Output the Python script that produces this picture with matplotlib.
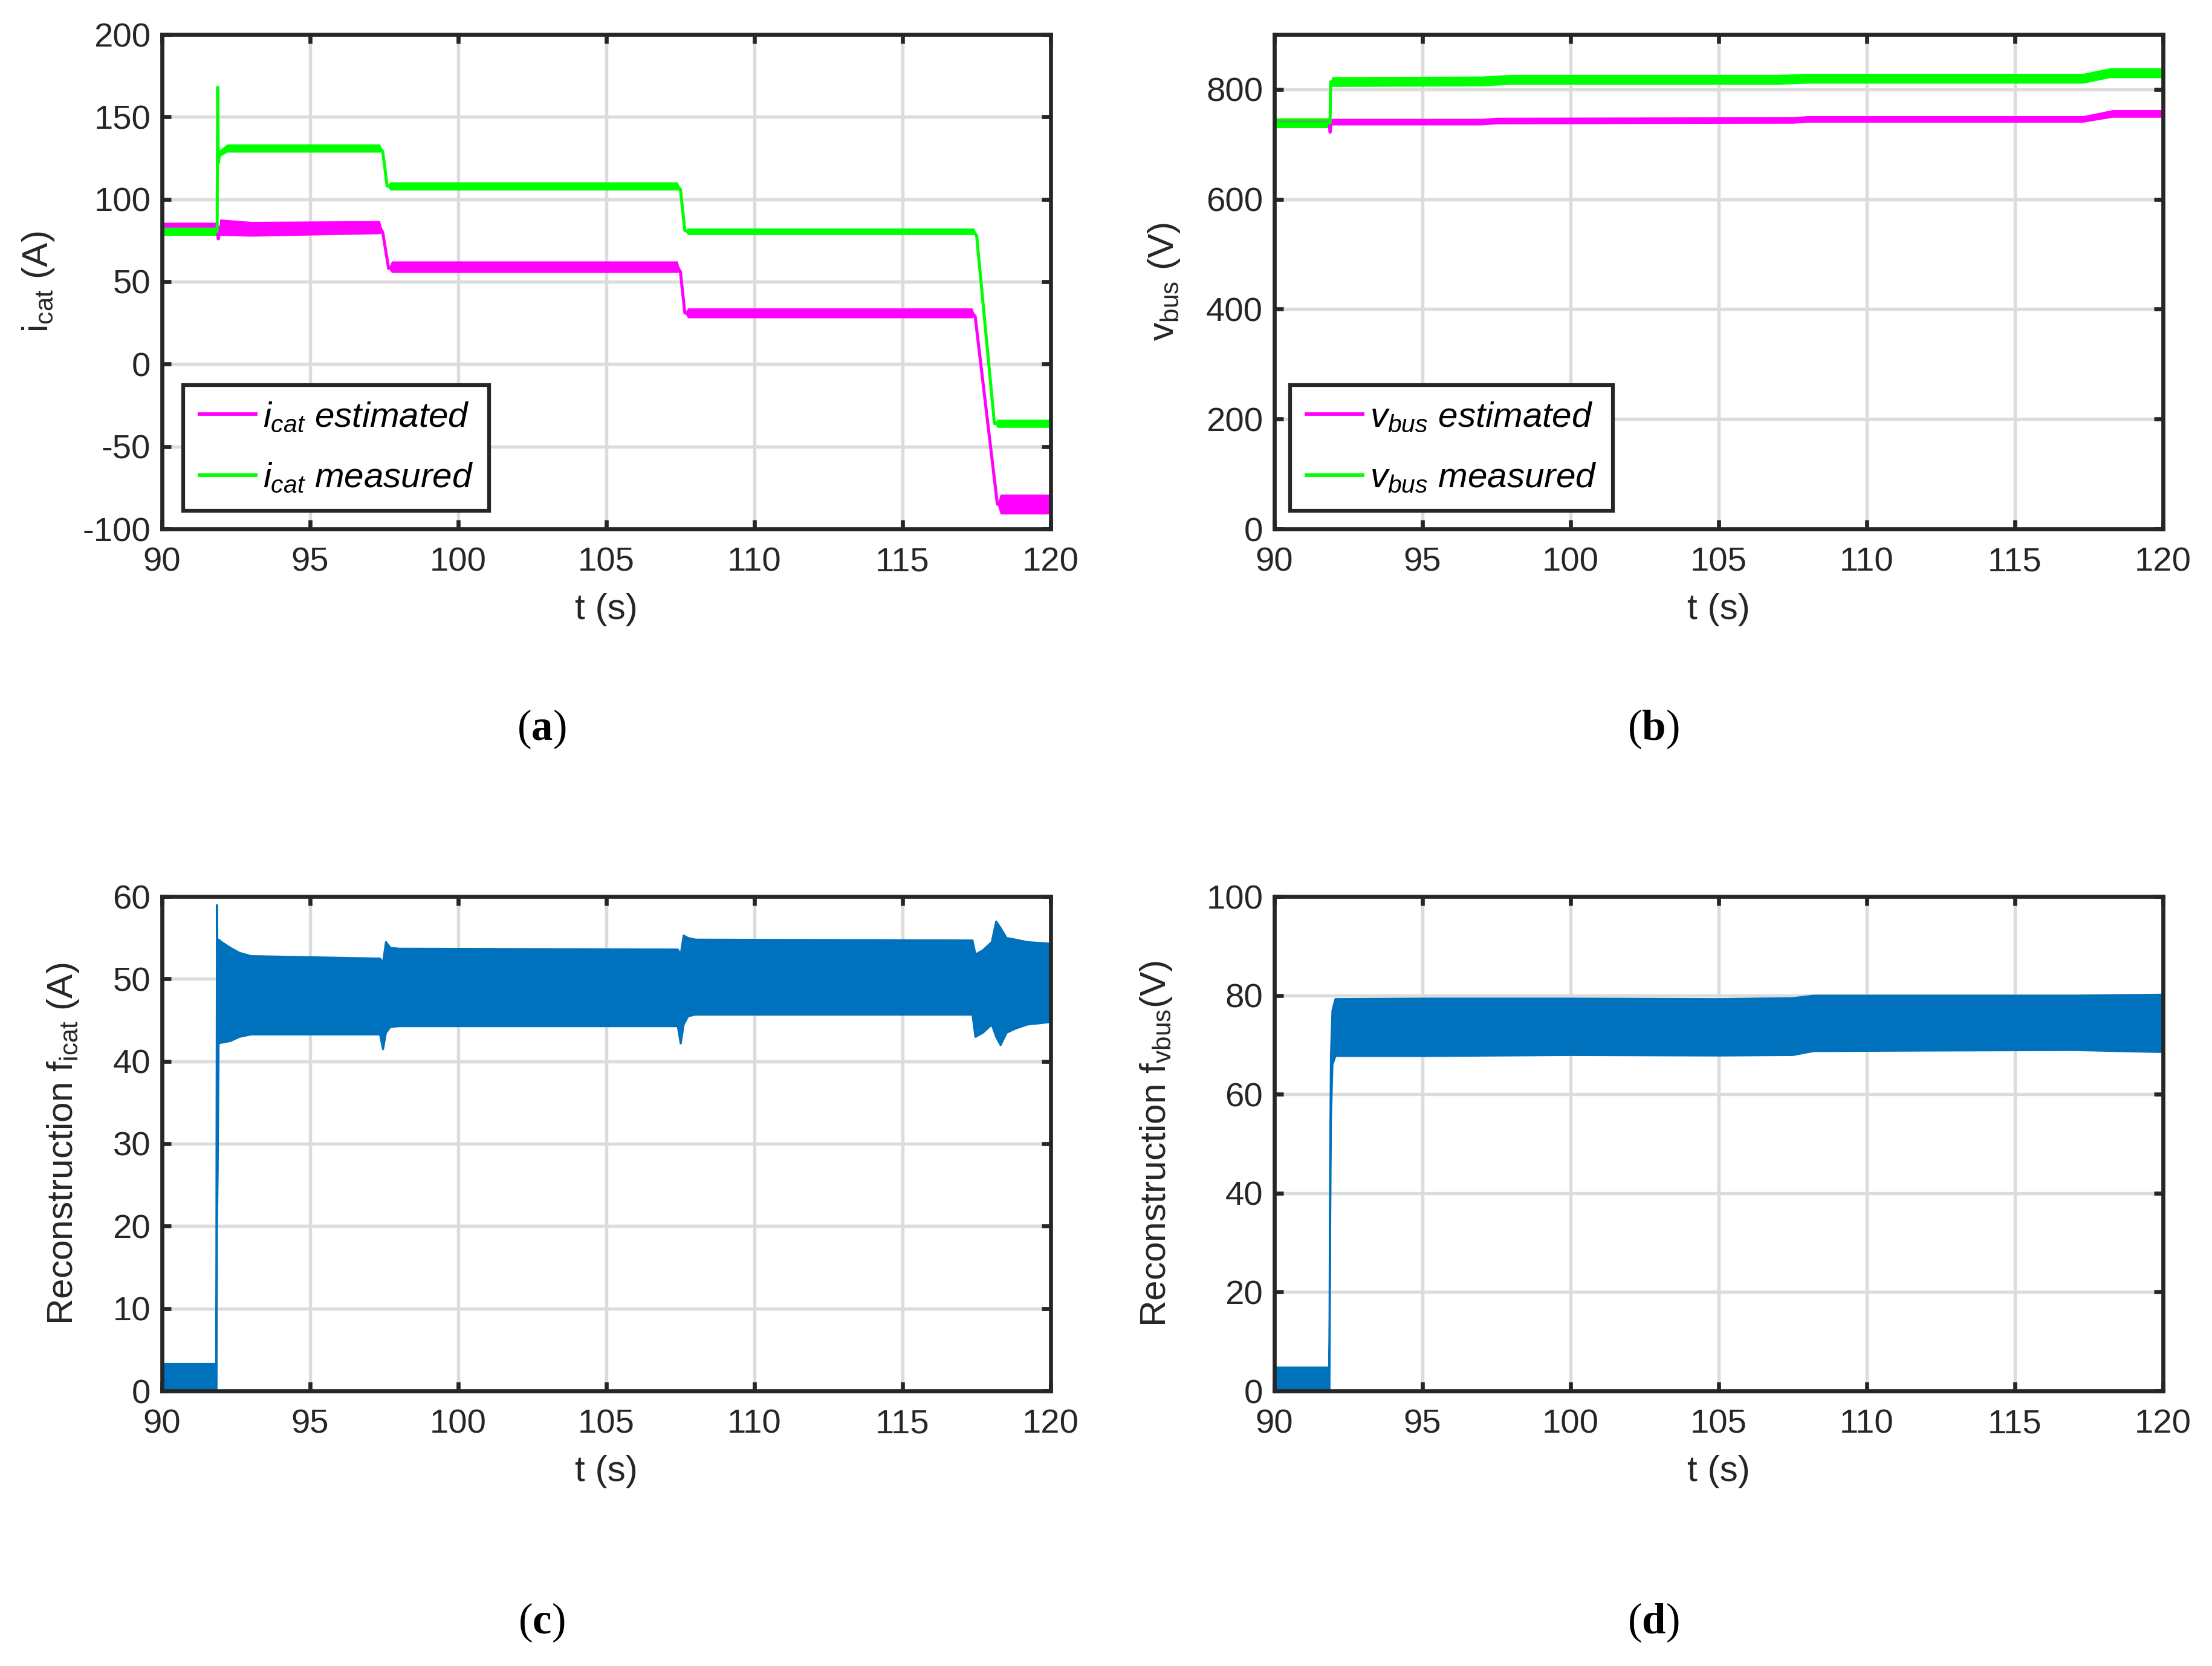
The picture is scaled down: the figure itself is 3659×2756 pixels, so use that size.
import matplotlib
matplotlib.use("Agg")
import matplotlib.pyplot as plt
import numpy as np

plt.rcParams['font.family'] = ['Liberation Sans', 'DejaVu Sans']
plt.rcParams['mathtext.fontset'] = 'custom'
plt.rcParams['mathtext.rm'] = 'Liberation Sans'
plt.rcParams['mathtext.it'] = 'Liberation Sans:italic'
plt.rcParams['mathtext.bf'] = 'Liberation Serif:bold'
plt.rcParams['axes.unicode_minus'] = False

MAGENTA = '#ff00ff'
GREEN = '#00ff00'
BLUE = '#0072bd'
DARK = '#262626'

# (a) catenary current: time, mean value, noise half width
ia_meas_t = [90, 91.85, 91.86, 91.88, 91.9, 91.95, 92.2, 97.35, 97.45, 97.6, 97.7, 107.4, 107.5, 107.65, 107.75, 117.4, 117.5, 118.1, 118.2, 120]
ia_meas_y = [80.5, 80.5, 80.5, 168, 122, 128, 131, 131, 129, 108, 108, 108, 106, 81, 80.5, 80.5, 78, -36, -36, -36]
ia_meas_hw = [2.5, 2.5, 0, 0, 0, 2, 2.5, 2.5, 0, 0, 2.5, 2.5, 0, 0, 2, 2, 0, 0, 2.5, 2.5]

ia_est_t = [90, 91.85, 91.9, 91.95, 93, 97.35, 97.45, 97.65, 97.75, 107.4, 107.5, 107.65, 107.75, 117.35, 117.45, 118.2, 118.3, 120]
ia_est_y = [84, 84, 76, 83, 82, 83, 80, 58, 59, 59, 56, 31, 31, 31, 29, -85, -85, -85]
ia_est_hw = [2, 2, 0, 5, 4.5, 4, 0, 0, 3.5, 3.5, 0, 0, 3, 3, 0, 0, 6, 6]

# (b) bus voltage
vb_meas_t = [90, 91.85, 91.88, 91.9, 91.95, 97, 98, 107, 108, 117.3, 118.2, 120]
vb_meas_y = [739, 739, 739, 814, 814, 815, 818, 818, 820, 820, 830, 830]
vb_meas_hw = [9, 9, 0, 0, 9, 9, 9, 9, 9, 9, 9, 9]

vb_est_t = [90, 91.85, 91.88, 91.92, 97, 97.5, 107.5, 108, 117.3, 118.3, 120]
vb_est_y = [740, 740, 722, 741, 741, 743, 744, 746, 746, 756, 756]
vb_est_hw = [6, 6, 0, 6, 6, 6, 6, 6, 6, 7, 7]

# (c) reconstruction f_icat: upper / lower envelope of the band
fc_t = [90, 91.82, 91.83, 91.845, 91.87, 91.9, 92.0, 92.3, 92.6, 93.0, 97.35, 97.45, 97.55, 97.7, 98.0,
        107.4, 107.5, 107.6, 107.75, 108.0, 117.35, 117.45, 117.7, 118.0, 118.15, 118.3, 118.5, 118.8, 119.2, 120]
fc_up = [3.3, 3.3, 30, 59, 50, 54.8, 54.5, 53.8, 53.2, 52.8, 52.5, 52, 54.5, 53.8, 53.7,
         53.6, 53, 55.3, 55, 54.8, 54.7, 53, 53.5, 54.5, 57, 56.2, 55, 54.8, 54.5, 54.3]
fc_lo = [0, 0, 0, 20, 27, 42.2, 42.3, 42.5, 43, 43.3, 43.3, 41.5, 43.5, 44.2, 44.3,
         44.3, 42.2, 44.5, 45.5, 45.7, 45.7, 43, 43.5, 44.5, 43, 42, 43.5, 44, 44.5, 44.8]

# (d) reconstruction f_vbus
fd_t = [90, 91.84, 91.85, 91.87, 91.9, 91.95, 92.05, 95, 100, 105, 107.5, 108.2, 112, 117, 120]
fd_up = [4.8, 4.8, 10, 45, 68, 77, 79.3, 79.4, 79.4, 79.3, 79.5, 80, 80, 80, 80.2]
fd_lo = [0, 0, 0, 30, 55, 66, 67.8, 67.8, 68, 67.9, 68, 68.8, 68.9, 69, 68.6]

xticks = [90, 95, 100, 105, 110, 115, 120]

fig = plt.figure(figsize=(3659 / 300, 2756 / 300), dpi=300)
W, H = 3659.0, 2756.0


def make_ax(left, top, right, bottom):
    ax = fig.add_axes([left / W, 1 - bottom / H, (right - left) / W, (bottom - top) / H])
    ax.set_xlim(90, 120)
    ax.set_xticks(xticks)
    ax.grid(True, color='#dcdcdc', lw=1.3)
    ax.set_axisbelow(True)
    for s in ax.spines.values():
        s.set_color(DARK)
        s.set_linewidth(1.6)
    ax.tick_params(direction='in', top=True, right=True, length=3.6, width=1.6,
                   colors=DARK, labelsize=13.5, labelcolor=DARK)
    ax.tick_params(axis='x', pad=7)
    ax.tick_params(axis='y', pad=4.5)
    ax.set_xlabel('t (s)', fontsize=14.5, color=DARK, va='center')
    ax.xaxis.set_label_coords(0.5, -0.163)
    return ax


def band(ax, t, y, hw, color, label=None):
    t = np.array(t)
    y = np.array(y, dtype=float)
    hw = np.array(hw, dtype=float)
    ax.fill_between(t, y - hw, y + hw, color=color, lw=0)
    ax.plot(t, y, color=color, lw=1.2, label=label)


def style_legend(ax, x0):
    leg = ax.legend(loc='lower left', bbox_to_anchor=(x0, 0.037), borderaxespad=0,
                    fontsize=14, handlelength=1.6, handletextpad=0.2, labelspacing=0.8,
                    borderpad=0.45, fancybox=False, framealpha=1, edgecolor=DARK)
    leg.get_frame().set_linewidth(1.5)
    for ln in leg.get_lines():
        ln.set_linewidth(1.4)


# (a)
ax1 = make_ax(268, 57, 1738, 875)
band(ax1, ia_est_t, ia_est_y, ia_est_hw, MAGENTA, r'$i_{cat}\ estimated$')
band(ax1, ia_meas_t, ia_meas_y, ia_meas_hw, GREEN, r'$i_{cat}\ measured$')
ax1.set_ylim(-100, 200)
ax1.set_yticks([-100, -50, 0, 50, 100, 150, 200])
ax1.set_ylabel(r'i$_{\mathrm{cat}}$ (A)', fontsize=14.5, color=DARK, va='center')
ax1.yaxis.set_label_coords(-0.139, 0.5)
style_legend(ax1, 0.024)

# (b)
ax2 = make_ax(2108, 57, 3578, 875)
band(ax2, vb_est_t, vb_est_y, vb_est_hw, MAGENTA, r'$v_{bus}\ estimated$')
band(ax2, vb_meas_t, vb_meas_y, vb_meas_hw, GREEN, r'$v_{bus}\ measured$')
ax2.set_ylim(0, 900)
ax2.set_yticks([0, 200, 400, 600, 800])
ax2.set_ylabel(r'v$_{\mathrm{bus}}$ (V)', fontsize=14.5, color=DARK, va='center')
ax2.yaxis.set_label_coords(-0.124, 0.5)
style_legend(ax2, 0.018)

# (c)
ax3 = make_ax(268, 1483, 1738, 2301)
ax3.fill_between(fc_t, fc_lo, fc_up, color=BLUE, lw=0.8, edgecolor=BLUE)
ax3.set_ylim(0, 60)
ax3.set_yticks([0, 10, 20, 30, 40, 50, 60])
ax3.set_ylabel(r'Reconstruction f$_{\mathrm{icat}}$ (A)', fontsize=14.5, color=DARK, va='center')
ax3.yaxis.set_label_coords(-0.111, 0.5)

# (d)
ax4 = make_ax(2108, 1483, 3578, 2301)
ax4.fill_between(fd_t, fd_lo, fd_up, color=BLUE, lw=0.8, edgecolor=BLUE)
ax4.set_ylim(0, 100)
ax4.set_yticks([0, 20, 40, 60, 80, 100])
ax4.set_ylabel(r'Reconstruction f$_{\mathrm{vbus}}$(V)', fontsize=14.5, color=DARK, va='center')
ax4.yaxis.set_label_coords(-0.133, 0.5)

# panel letters
for letter, x, y in [('a', 896, 1206), ('b', 2735, 1206), ('c', 896, 2684), ('d', 2735, 2684)]:
    fig.text(x / W, 1 - y / H, '(' + r'$\mathbf{' + letter + '}$' + ')',
             family='Liberation Serif', fontsize=17, ha='center', va='center', color='black')

fig.savefig('out.png', dpi=300)
